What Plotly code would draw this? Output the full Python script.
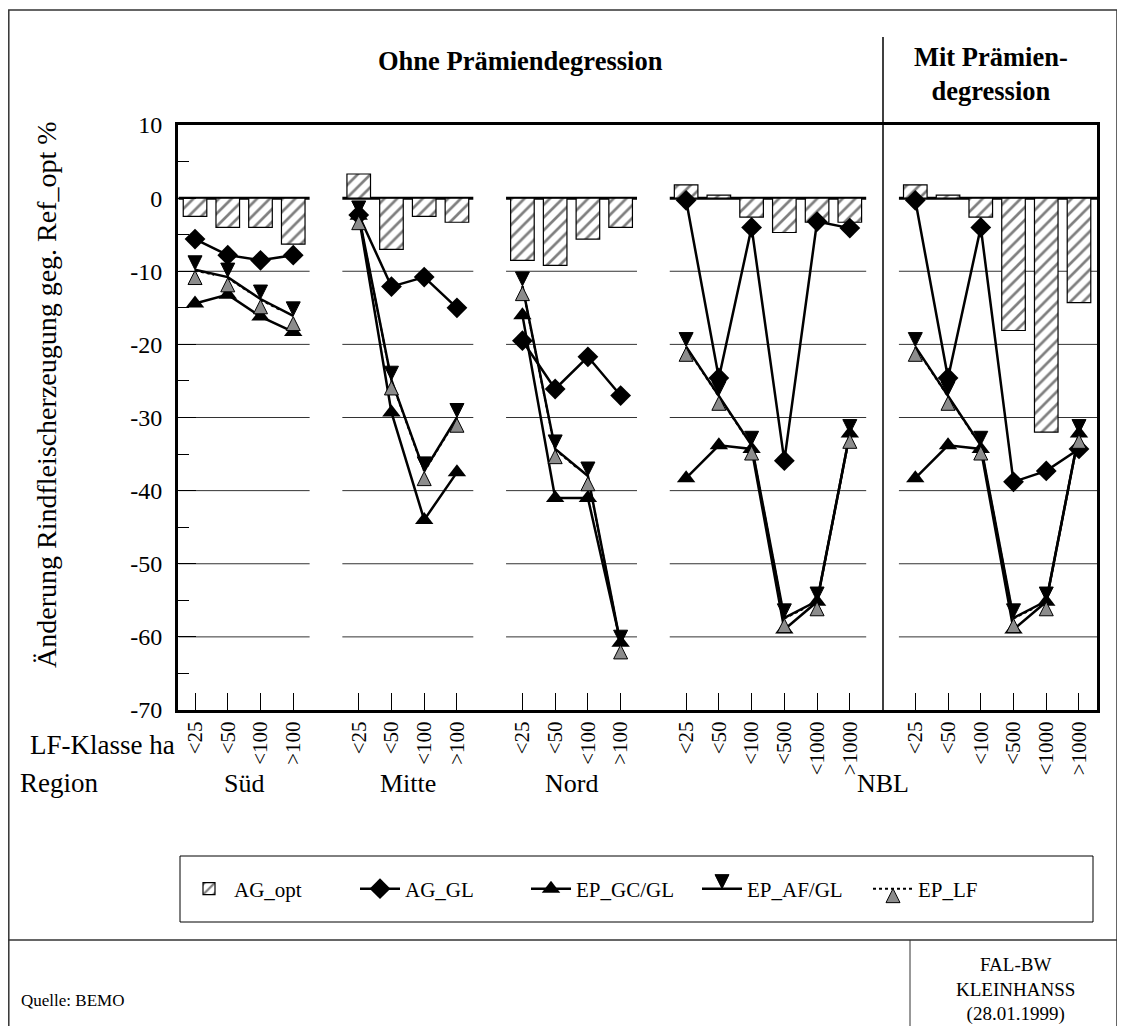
import plotly.graph_objects as go

# ---------------- data ----------------
classes_small = ["<25", "<50", "<100", ">100"]
classes_large = ["<25", "<50", "<100", "<500", "<1000", ">1000"]
group_classes = [classes_small, classes_small, classes_small, classes_large, classes_large]
group_start = [0, 5, 10, 15, 22]          # slot index of first class in each group

ag_opt = [
    [-2.5, -4.0, -4.0, -6.3],
    [3.3, -7.0, -2.5, -3.3],
    [-8.5, -9.2, -5.6, -4.0],
    [1.8, 0.4, -2.6, -4.7, -3.3, -3.3],
    [1.8, 0.4, -2.6, -18.1, -32.0, -14.3],
]
ag_gl = [
    [-5.6, -7.8, -8.5, -7.8],
    [-2.3, -12.1, -10.8, -15.0],
    [-19.5, -26.1, -21.7, -27.0],
    [-0.3, -24.6, -4.0, -35.9, -3.2, -4.1],
    [-0.3, -24.6, -4.0, -38.8, -37.3, -34.3],
]
ep_gc = [
    [-14.4, -13.2, -16.2, -18.3],
    [-2.4, -29.3, -44.0, -37.5],
    [-16.0, -41.0, -41.0, -60.8],
    [-38.3, -33.8, -34.3, -59.0, -55.2, -32.2],
    [-38.3, -33.8, -34.3, -59.0, -55.2, -32.2],
]
ep_af = [
    [-9.8, -10.8, -13.8, -16.1],
    [-2.3, -24.9, -37.3, -30.0],
    [-12.0, -34.3, -38.0, -61.0],
    [-20.3, -27.0, -33.8, -57.4, -55.1, -32.2],
    [-20.3, -27.0, -33.8, -57.4, -55.1, -32.2],
]
ep_lf = [
    [-9.9, -10.9, -13.9, -16.2],
    [-2.4, -25.0, -37.4, -30.1],
    [-12.1, -34.4, -38.1, -61.1],
    [-20.4, -27.1, -33.9, -57.5, -55.2, -32.3],
    [-20.4, -27.1, -33.9, -57.5, -55.2, -32.3],
]
yticks = [10, 0, -10, -20, -30, -40, -50, -60, -70]
yticktext = ["10", "0", "-10", "-20", "-30", "-40", "-50", "-60", "-70"]
region_labels = [("Süd", [0]), ("Mitte", [1]), ("Nord", [2]), ("NBL", [3, 4])]

# ---------------- helpers ----------------
OFF = 8                      # page body margin of the html page
W, H = 1125, 1026
PL, PR, PT, PB = 178, 1097, 125, 710     # plot area in page pixels
L, T = PL - OFF, PT - OFF
R, B = W - (PR - OFF), H - (PB - OFF)
PW, PH = PR - PL, PB - PT


def px(xp):
    return (xp - PL) / PW


def py(yp):
    return (PB - yp) / PH


def series(values):
    xs, ys = [], []
    for g, vals in enumerate(values):
        for i, v in enumerate(vals):
            xs.append(group_start[g] + i)
            ys.append(v)
        xs.append(None)
        ys.append(None)
    return xs, ys


tickvals, ticktext = [], []
for g, cls in enumerate(group_classes):
    for i, c in enumerate(cls):
        tickvals.append(group_start[g] + i)
        ticktext.append(c)

FONT = "Liberation Serif, Times New Roman, serif"

fig = go.Figure()

bx, byv = series(ag_opt)
fig.add_trace(go.Bar(
    x=[v for v in bx if v is not None], y=[v for v in byv if v is not None],
    name="AG_opt", width=0.72,
    marker=dict(color="white", line=dict(color="black", width=1.2),
                pattern=dict(shape="/", fgcolor="black", bgcolor="white", size=9, solidity=0.3)),
))

lx, ly = series(ag_gl)
fig.add_trace(go.Scatter(x=lx, y=ly, name="AG_GL", mode="lines+markers",
                         line=dict(color="black", width=2.5),
                         marker=dict(symbol="diamond", size=16, color="black")))
lx, ly = series(ep_gc)
fig.add_trace(go.Scatter(x=lx, y=ly, name="EP_GC/GL", mode="lines+markers",
                         line=dict(color="black", width=2.5),
                         marker=dict(symbol="triangle-up", size=16, color="black")))
lx, ly = series(ep_af)
fig.add_trace(go.Scatter(x=lx, y=ly, name="EP_AF/GL", mode="lines+markers",
                         line=dict(color="black", width=2.5),
                         marker=dict(symbol="arrow-down", size=14, color="black",
                                     line=dict(color="black", width=1))))
lx, ly = series(ep_lf)
fig.add_trace(go.Scatter(x=lx, y=ly, name="EP_LF", mode="lines+markers",
                         line=dict(color="black", width=2, dash="dot"),
                         marker=dict(symbol="arrow-up", size=14, color="#8c8c8c",
                                     line=dict(color="black", width=1))))

shapes = []
for g, cls in enumerate(group_classes):
    x0 = group_start[g] - 0.5
    x1 = group_start[g] + len(cls) - 0.5
    if g == len(group_classes) - 1:
        x1 = 27.6
    for yv in [0, -10, -20, -30, -40, -50, -60]:
        shapes.append(dict(type="line", xref="x", yref="y", x0=x0, x1=x1, y0=yv, y1=yv,
                           line=dict(color="black" if yv == 0 else "#333333", width=3 if yv == 0 else 1),
                           layer="below"))
shapes.append(dict(type="line", xref="paper", yref="paper", x0=px(883), x1=px(883),
                   y0=py(37), y1=py(710), line=dict(color="black", width=1.5)))
shapes.append(dict(type="rect", xref="paper", yref="paper", x0=px(OFF + 0.8), x1=px(1117),
                   y0=py(10), y1=py(1045), line=dict(color="#333333", width=1.5)))
shapes.append(dict(type="line", xref="paper", yref="paper", x0=px(OFF), x1=px(1117),
                   y0=py(940), y1=py(940), line=dict(color="#333333", width=1.5)))
shapes.append(dict(type="line", xref="paper", yref="paper", x0=px(910), x1=px(910),
                   y0=py(940), y1=py(1045), line=dict(color="#333333", width=1)))
shapes.append(dict(type="rect", xref="paper", yref="paper", x0=px(180), x1=px(1093),
                   y0=py(856), y1=py(922), line=dict(color="black", width=1)))


def text(t, xp, yp, size, xanchor="center", bold=False, angle=0, xref="paper"):
    return dict(text=f"<b>{t}</b>" if bold else t, xref=xref, yref="paper",
                x=px(xp) if xref == "paper" else xp, y=py(yp),
                xanchor=xanchor, yanchor="middle", textangle=angle, showarrow=False,
                font=dict(size=size, family=FONT, color="black"))


ann = [
    text("Ohne Prämiendegression", 520, 61, 26.5, bold=True),
    text("Mit Prämien-<br>degression", 991, 74, 26.5, bold=True),
    text("Änderung Rindfleischerzeugung geg. Ref_opt %", 46, 395, 28, angle=-90),
    text("LF-Klasse ha", 177, 745, 27, xanchor="right"),
    text("Region", 18, 783, 27, xanchor="left"),
    text("Quelle: BEMO", 19, 1000, 17, xanchor="left"),
    text("FAL-BW<br>KLEINHANSS<br>(28.01.1999)", 1015, 989, 19),
]
for name, gs in region_labels:
    first = group_start[gs[0]]
    last = group_start[gs[-1]] + len(group_classes[gs[-1]]) - 1
    ann.append(text(name, (first + last) / 2, 783, 26, xref="x"))

fig.update_layout(
    width=W, height=H,
    margin=dict(l=L, r=R, t=T, b=B, autoexpand=False),
    paper_bgcolor="white", plot_bgcolor="white",
    font=dict(family=FONT, color="black"),
    barmode="overlay",
    shapes=shapes, annotations=ann,
    showlegend=True,
    legend=dict(orientation="h", x=px(184), y=py(889), xanchor="left", yanchor="middle",
                font=dict(size=21, family=FONT, color="black"), bgcolor="rgba(0,0,0,0)",
                itemwidth=40, entrywidth=116, traceorder="normal"),
    xaxis=dict(range=[-0.52, 27.55], tickmode="array", tickvals=tickvals, ticktext=ticktext,
               tickangle=-90, ticks="inside", ticklen=17, tickwidth=1, tickcolor="black",
               showline=True, linewidth=3, linecolor="black", mirror=True,
               showgrid=False, zeroline=False, tickfont=dict(size=21, family=FONT)),
    yaxis=dict(range=[-70, 10], tickmode="array", tickvals=yticks, ticktext=yticktext,
               ticks="inside", ticklen=18, tickwidth=1, tickcolor="black",
               minor=dict(tickmode="linear", dtick=5, ticks="inside", ticklen=11, tickcolor="black", showgrid=False),
               showline=True, linewidth=3, linecolor="black", mirror=True,
               showgrid=False, zeroline=False, ticklabelstandoff=8,
               tickfont=dict(size=24, family=FONT)),
)

fig.write_html("out.html")
